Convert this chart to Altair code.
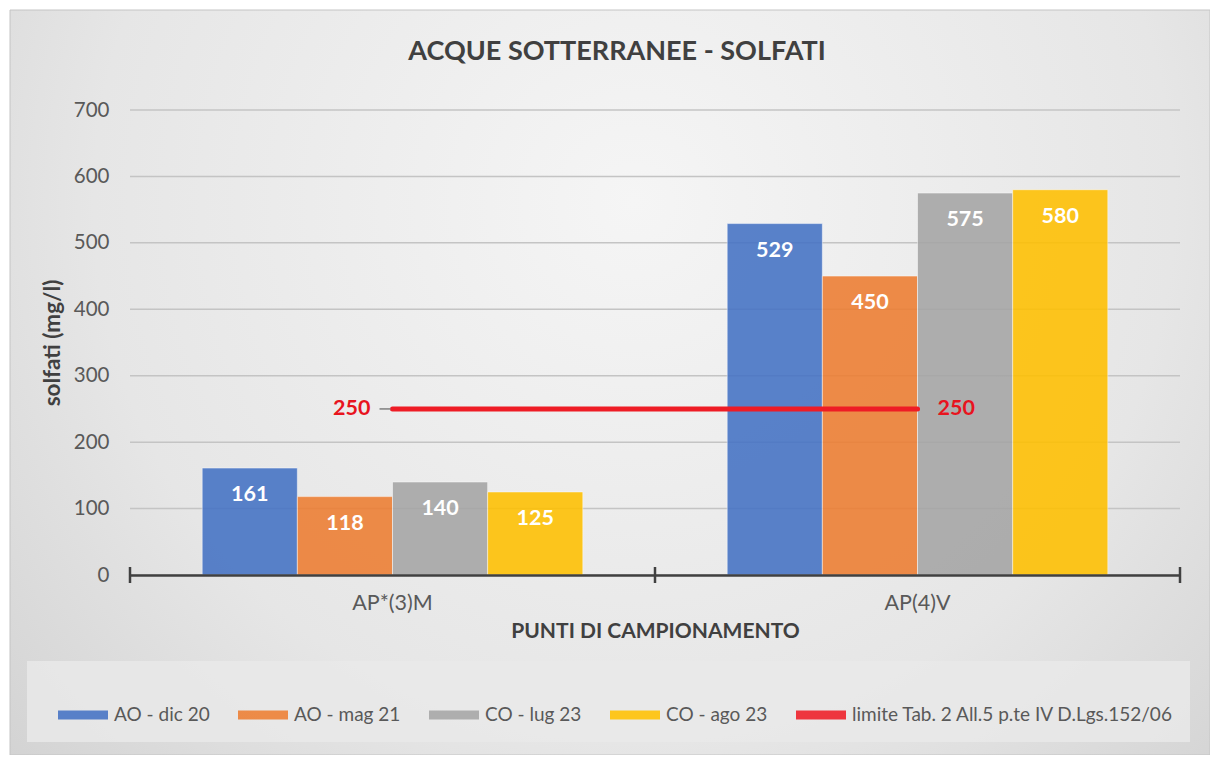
import altair as alt
import pandas as pd

categories = ["AP*(3)M", "AP(4)V"]
series = ["AO - dic 20", "AO - mag 21", "CO - lug 23", "CO - ago 23"]
values_ap3m = [161, 118, 140, 125]
values_ap4v = [529, 450, 575, 580]
series_colors = ["#4472c4", "#ed7d31", "#a5a5a5", "#ffc000"]
limit_label = "limite Tab. 2 All.5 p.te IV D.Lgs.152/06"
limit_value = 250
limit_color = "#ee1c25"
y_ticks = [0, 100, 200, 300, 400, 500, 600, 700]
category_bounds = [0, 1, 2]  # boundaries between the categories on the x axis

FONT = "Lato"

rows = []
for cat, vals in zip(categories, [values_ap3m, values_ap4v]):
    for s, v in zip(series, vals):
        rows.append({"punto": cat, "serie": s, "valore": v})
df = pd.DataFrame(rows)

lim_df = pd.DataFrame([{"x1": categories[0], "x2": categories[1], "y": limit_value,
                        "serie": limit_label, "lab": str(limit_value)}])
grid_df = pd.DataFrame({"g": y_ticks})
tick_df = pd.DataFrame({"b": category_bounds})

color_scale = alt.Scale(domain=series + [limit_label], range=series_colors + [limit_color])
legend = alt.Legend(
    orient="none", legendX=-72, legendY=580, direction="horizontal", title=None,
    symbolType="M-1,-0.18H1V0.18H-1Z", symbolSize=2500, symbolStrokeWidth=0,
    labelFont=FONT, labelFontSize=19, labelColor="#595959", labelOffset=6,
    columnPadding=28, labelLimit=500,
)

x_scale = alt.Scale(domain=categories, paddingInner=0.275, paddingOuter=0.1375)
y_scale = alt.Scale(domain=[0, 700])

dummy = alt.Data(values=[{}])

bg = alt.Chart(dummy).mark_rect(
    fill=alt.RadialGradient(
        gradient="radial",
        stops=[alt.GradientStop(color="#f5f5f5", offset=0),
               alt.GradientStop(color="#e6e6e6", offset=0.6),
               alt.GradientStop(color="#cfcfcf", offset=1)],
        x1=0.52, y1=0.35, r1=0, x2=0.52, y2=0.35, r2=0.75,
    ),
    stroke="#c4c4c4", strokeWidth=1,
).encode(x=alt.value(-120), x2=alt.value(1080), y=alt.value(-100), y2=alt.value(645))

legend_box = alt.Chart(dummy).mark_rect(fill="#e9e9e9", opacity=0.85).encode(
    x=alt.value(-103), x2=alt.value(1060), y=alt.value(551), y2=alt.value(632)
)

grid = alt.Chart(grid_df).mark_rule(color="#c4c4c4", strokeWidth=1.5).encode(
    y=alt.Y("g:Q", scale=y_scale), x=alt.value(0), x2=alt.value(1050)
)

bars = alt.Chart(df).mark_bar(opacity=0.88, stroke="white", strokeWidth=1, strokeOpacity=0.5).encode(
    x=alt.X("punto:N", scale=x_scale, sort=categories,
            axis=alt.Axis(title="PUNTI DI CAMPIONAMENTO", labelAngle=0, ticks=False,
                          domainColor="#404040", domainWidth=2.5, labelPadding=17, zindex=1,
                          labelFont=FONT, labelFontSize=21.5, labelColor="#595959",
                          titleFont=FONT, titleFontSize=21, titleFontWeight="bold",
                          titleColor="#404040", titlePadding=7)),
    xOffset=alt.XOffset("serie:N", sort=series),
    y=alt.Y("valore:Q", scale=y_scale,
            axis=alt.Axis(title="solfati (mg/l)", values=y_ticks, domain=False, ticks=False,
                          grid=False, labelPadding=21, zindex=1,
                          labelFont=FONT, labelFontSize=20.5, labelColor="#595959",
                          titleFont=FONT, titleFontSize=22.5, titleFontWeight="bold",
                          titleColor="#404040", titlePadding=9)),
    color=alt.Color("serie:N", scale=color_scale, legend=legend),
)

bar_labels = alt.Chart(df).mark_text(
    color="white", font=FONT, fontSize=21.5, fontWeight="bold", baseline="middle", dy=27
).encode(
    x=alt.X("punto:N", scale=x_scale, sort=categories),
    xOffset=alt.XOffset("serie:N", sort=series),
    y=alt.Y("valore:Q", scale=y_scale),
    text="valore:Q",
)

limit_line = alt.Chart(lim_df).mark_rule(strokeWidth=5, strokeCap="round").encode(
    x=alt.X("x1:N", scale=x_scale),
    x2="x2:N",
    y=alt.Y("y:Q", scale=y_scale),
    color=alt.Color("serie:N", scale=color_scale, legend=legend),
)

leader = alt.Chart(lim_df).mark_rule(color="#7f7f7f", strokeWidth=1.5, xOffset=-13, x2Offset=-2).encode(
    x=alt.X("x1:N", scale=x_scale),
    x2="x1:N",
    y=alt.Y("y:Q", scale=y_scale),
)

lab_left = alt.Chart(lim_df).mark_text(
    color="#e8141e", font=FONT, fontSize=21.5, fontWeight="bold", align="right", dx=-22, baseline="middle"
).encode(x=alt.X("x1:N", scale=x_scale), y=alt.Y("y:Q", scale=y_scale), text="lab:N")

lab_right = alt.Chart(lim_df).mark_text(
    color="#e8141e", font=FONT, fontSize=21.5, fontWeight="bold", align="left", dx=20, baseline="middle"
).encode(x=alt.X("x2:N", scale=x_scale), y=alt.Y("y:Q", scale=y_scale), text="lab:N")

x_ticks = alt.Chart(tick_df).mark_rule(color="#404040", strokeWidth=2.5).encode(
    x=alt.X("b:Q", scale=alt.Scale(domain=[0, 2], nice=False, zero=False), axis=None),
    y=alt.value(457), y2=alt.value(473),
)

main = alt.layer(bg, legend_box, grid, bars, bar_labels, limit_line, leader, lab_left, lab_right)

chart = alt.layer(main, x_ticks).resolve_scale(x="independent").properties(
    width=1050, height=465,
    padding={"left": 122, "top": 102, "right": 30, "bottom": 180},
    autosize=alt.AutoSizeParams(type="none"),
    background="white",
    title=alt.Title("ACQUE SOTTERRANEE - SOLFATI", font=FONT, fontSize=27, fontWeight="bold",
                    color="#404040", anchor="middle", frame="group", dx=-38, offset=-77,
                    baseline="alphabetic"),
).configure_view(stroke=None)

chart.save("out.html", embed_options={"renderer": "svg", "actions": False})
